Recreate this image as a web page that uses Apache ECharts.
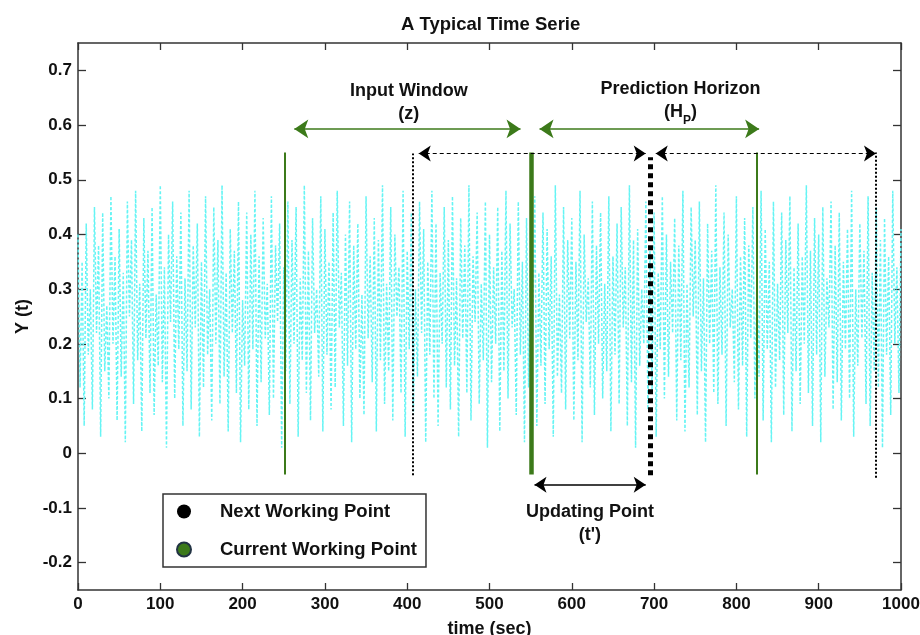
<!DOCTYPE html>
<html>
<head>
<meta charset="utf-8">
<script src="https://cdn.jsdelivr.net/npm/echarts@6/dist/echarts.min.js"></script>
<style>html,body{margin:0;padding:0;background:#fff}#c{width:920px;height:635px}</style>
</head>
<body>
<div id="c"></div>
<script>
// ---- data (values read/estimated from the picture) ----
const timeStep = 2.5; // seconds between samples
const seriesHundredths = (
"40 12 35 05 42 18 30 08 45 22 38 03 44 15 27 10 47 20 36 06 " +
"41 14 33 02 46 25 39 09 48 17 31 04 43 21 37 11 45 07 29 16 " +
"49 13 34 01 40 24 46 10 36 19 44 05 32 15 48 08 38 23 42 03 " +
"35 12 47 18 30 06 45 20 39 09 49 14 33 04 41 22 37 11 46 02 " +
"28 16 44 08 40 19 48 05 36 13 43 21 31 07 47 10 38 24 42 01 " +
"34 15 46 09 39 20 45 03 32 17 49 11 37 06 43 22 30 14 47 04 " +
"41 18 35 08 44 12 48 23 33 05 40 16 46 02 38 19 42 10 29 07 " +
"47 21 36 13 43 04 39 17 49 09 31 15 45 06 40 25 34 11 48 03 " +
"37 19 44 07 30 14 46 22 41 02 35 18 48 10 42 05 33 20 45 12 " +
"39 08 47 16 32 03 43 21 38 11 49 06 36 24 44 09 31 17 46 01 " +
"40 13 34 20 45 04 37 15 48 10 42 23 30 07 46 18 35 02 43 12 " +
"38 22 47 05 33 16 44 09 41 19 36 03 49 14 29 11 45 08 39 21 " +
"43 06 35 17 48 02 40 24 32 12 46 07 38 20 44 10 31 15 47 04 " +
"36 18 42 09 45 23 34 05 49 13 39 01 41 16 30 20 46 08 37 11 " +
"44 03 33 19 47 10 40 14 35 22 43 06 38 17 48 04 31 12 45 25 " +
"39 07 46 15 32 02 42 20 37 11 49 09 34 18 44 05 40 23 30 13 " +
"47 08 36 16 43 03 38 21 45 10 33 14 48 06 41 19 35 02 46 12 " +
"31 17 44 07 39 22 47 04 34 15 42 09 36 20 49 11 37 05 43 18 " +
"40 02 45 14 32 23 46 08 38 13 44 06 35 19 41 10 48 03 30 16 " +
"42 21 37 09 47 05 33 15 45 12 39 01 43 18 36 07 48 20 34 11 41"
).trim().split(/\s+/).map(Number);
const seriesValues = seriesHundredths.map(v => v / 100);

const yTickValues = [-0.2, -0.1, 0, 0.1, 0.2, 0.3, 0.4, 0.5, 0.6, 0.7];

// current working points (green vertical lines): [time, yBottom, yTop, weight]
const currentPoints = [[251, -0.039, 0.55, 2], [550.6, -0.039, 0.55, 4.5], [825, -0.039, 0.55, 2]];
// next working points (black dotted vertical lines)
const nextPoints = [[406.7, -0.040, 0.548, 2], [695, -0.040, 0.541, 5], [969, -0.045, 0.55, 2]];
// green arrows (input window, prediction horizon): [x0, x1, y]
const greenArrows = [[262.8, 537.7, 0.593], [560.8, 827.6, 0.593]];
// black dashed arrows
const dashedArrows = [[414, 689.8, 0.548], [702, 969.6, 0.548]];
// updating point arrow
const solidArrows = [[554.7, 689.8, -0.0575]];
// text annotations [x, y, text]
const annotations = [
  [402, 0.641, 'Input Window\n(z)'],
  [732, 0.645, 'Prediction Horizon\n(H{sub|P})'],
  [622, -0.129, 'Updating Point\n(t\')']
];

const FONT = 'Liberation Sans';
const GREEN = '#3c7a1a';
const CYAN = '#66f4f4';

const lineData = seriesValues.map((v, i) => [i * timeStep, v]);

function vline(p, color, type) {
  return [{coord: [p[0], p[1]], lineStyle: {width: p[3], color: color, type: type(p[3])}},
          {coord: [p[0], p[2]]}];
}
function hline(a) { return [{coord: [a[0], a[2]]}, {coord: [a[1], a[2]]}]; }

const axisColor = '#333';
const chart = echarts.init(document.getElementById('c'));
chart.setOption({
  animation: false,
  backgroundColor: '#fff',
  textStyle: {fontFamily: FONT},
  title: {
    text: 'A Typical Time Serie',
    left: 396, top: 10,
    textStyle: {fontFamily: FONT, fontWeight: 'bold', fontSize: 18.5, color: '#111'}
  },
  grid: {left: 78, right: 19, top: 43, bottom: 45, containLabel: false, outerBoundsMode: 'none'},
  legend: {
    orient: 'vertical',
    left: 163, top: 494,
    padding: [8, 9, 8, 13],
    itemWidth: 14, itemHeight: 14, itemGap: 19,
    icon: 'circle',
    backgroundColor: '#fff',
    borderColor: '#333', borderWidth: 1.5,
    data: ['Next Working Point', 'Current Working Point'],
    textStyle: {fontFamily: FONT, fontWeight: 'bold', fontSize: 18.5, color: '#111', padding: [0, 0, 0, 24]}
  },
  xAxis: [{
    type: 'value', min: 0, max: 1000, interval: 100,
    name: 'time (sec)', nameLocation: 'middle', nameGap: 30,
    nameTextStyle: {fontFamily: FONT, fontWeight: 'bold', fontSize: 18, color: '#111'},
    axisLine: {onZero: false, lineStyle: {color: axisColor, width: 1.5}},
    axisTick: {inside: true, length: 7, lineStyle: {color: axisColor, width: 1.3}},
    axisLabel: {fontFamily: FONT, fontWeight: 'bold', fontSize: 17, color: '#111', margin: 6, formatter: v => String(v)},
    splitLine: {show: false}
  }, {
    type: 'value', min: 0, max: 1000, interval: 100, position: 'top',
    axisLine: {show: true, onZero: false, lineStyle: {color: axisColor, width: 1.5}},
    axisTick: {inside: true, length: 7, lineStyle: {color: axisColor, width: 1.3}},
    axisLabel: {show: false}, splitLine: {show: false}
  }],
  yAxis: [{
    type: 'value', min: -0.25, max: 0.75,
    name: 'Y (t)', nameLocation: 'middle', nameGap: 46,
    nameTextStyle: {fontFamily: FONT, fontWeight: 'bold', fontSize: 18, color: '#111'},
    axisLine: {show: true, onZero: false, lineStyle: {color: axisColor, width: 1.5}},
    axisTick: {show: true, inside: true, length: 8, customValues: yTickValues, lineStyle: {color: axisColor, width: 1.3}},
    axisLabel: {customValues: yTickValues, fontFamily: FONT, fontWeight: 'bold', fontSize: 17, color: '#111', margin: 6,
      formatter: v => String(Math.round(v * 10) / 10)},
    splitLine: {show: false}
  }, {
    type: 'value', min: -0.25, max: 0.75, position: 'right',
    axisLine: {show: true, onZero: false, lineStyle: {color: axisColor, width: 1.5}},
    axisTick: {show: true, inside: true, length: 8, customValues: yTickValues, lineStyle: {color: axisColor, width: 1.3}},
    axisLabel: {show: false}, splitLine: {show: false}
  }],
  series: [
    {
      type: 'line', name: 'Y', data: lineData, showSymbol: false, symbol: 'none',
      lineStyle: {color: CYAN, width: 1.5, type: [3, 2]}, z: 1, silent: true
    },
    {
      type: 'line', name: 'Current Working Point', data: [], itemStyle: {color: GREEN, borderColor: '#234', borderWidth: 0.5},
      z: 3,
      markLine: {
        silent: true, symbol: ['none', 'none'], label: {show: false},
        data: currentPoints.map(p => vline(p, GREEN, () => 'solid'))
          .concat(greenArrows.map(a => {
            const d = hline(a);
            d[0].lineStyle = {color: GREEN, width: 1.6, type: 'solid'};
            d[0].symbol = 'arrow'; d[1].symbol = 'arrow';
            d[0].symbolSize = 14; d[1].symbolSize = 14;
            return d;
          }))
      }
    },
    {
      type: 'line', name: 'Next Working Point', data: [], itemStyle: {color: '#000'},
      z: 4,
      markLine: {
        silent: true, symbol: ['none', 'none'], label: {show: false},
        data: nextPoints.map(p => vline(p, '#000', w => [w, w * (w > 3 ? 0.8 : 1)]))
          .concat(dashedArrows.map(a => {
            const d = hline(a);
            d[0].lineStyle = {color: '#000', width: 1.2, type: [4, 3]};
            d[0].symbol = 'arrow'; d[1].symbol = 'arrow';
            d[0].symbolSize = 12; d[1].symbolSize = 12;
            return d;
          }))
          .concat(solidArrows.map(a => {
            const d = hline(a);
            d[0].lineStyle = {color: '#000', width: 1.5, type: 'solid'};
            d[0].symbol = 'arrow'; d[1].symbol = 'arrow';
            d[0].symbolSize = 12; d[1].symbolSize = 12;
            return d;
          }))
      }
    },
    {
      type: 'scatter', name: 'labels', symbolSize: 0, silent: true, z: 5,
      itemStyle: {opacity: 1},
      data: annotations.map(a => ({value: [a[0], a[1]], text: a[2]})),
      label: {
        show: true, position: 'inside',
        formatter: p => p.data.text,
        fontFamily: FONT, fontWeight: 'bold', fontSize: 18, color: '#111', lineHeight: 23, align: 'center',
        rich: {sub: {fontFamily: FONT, fontWeight: 'bold', fontSize: 12, color: '#111', padding: [18, 0, 0, 0], lineHeight: 23}}
      }
    }
  ]
});
</script>
</body>
</html>
